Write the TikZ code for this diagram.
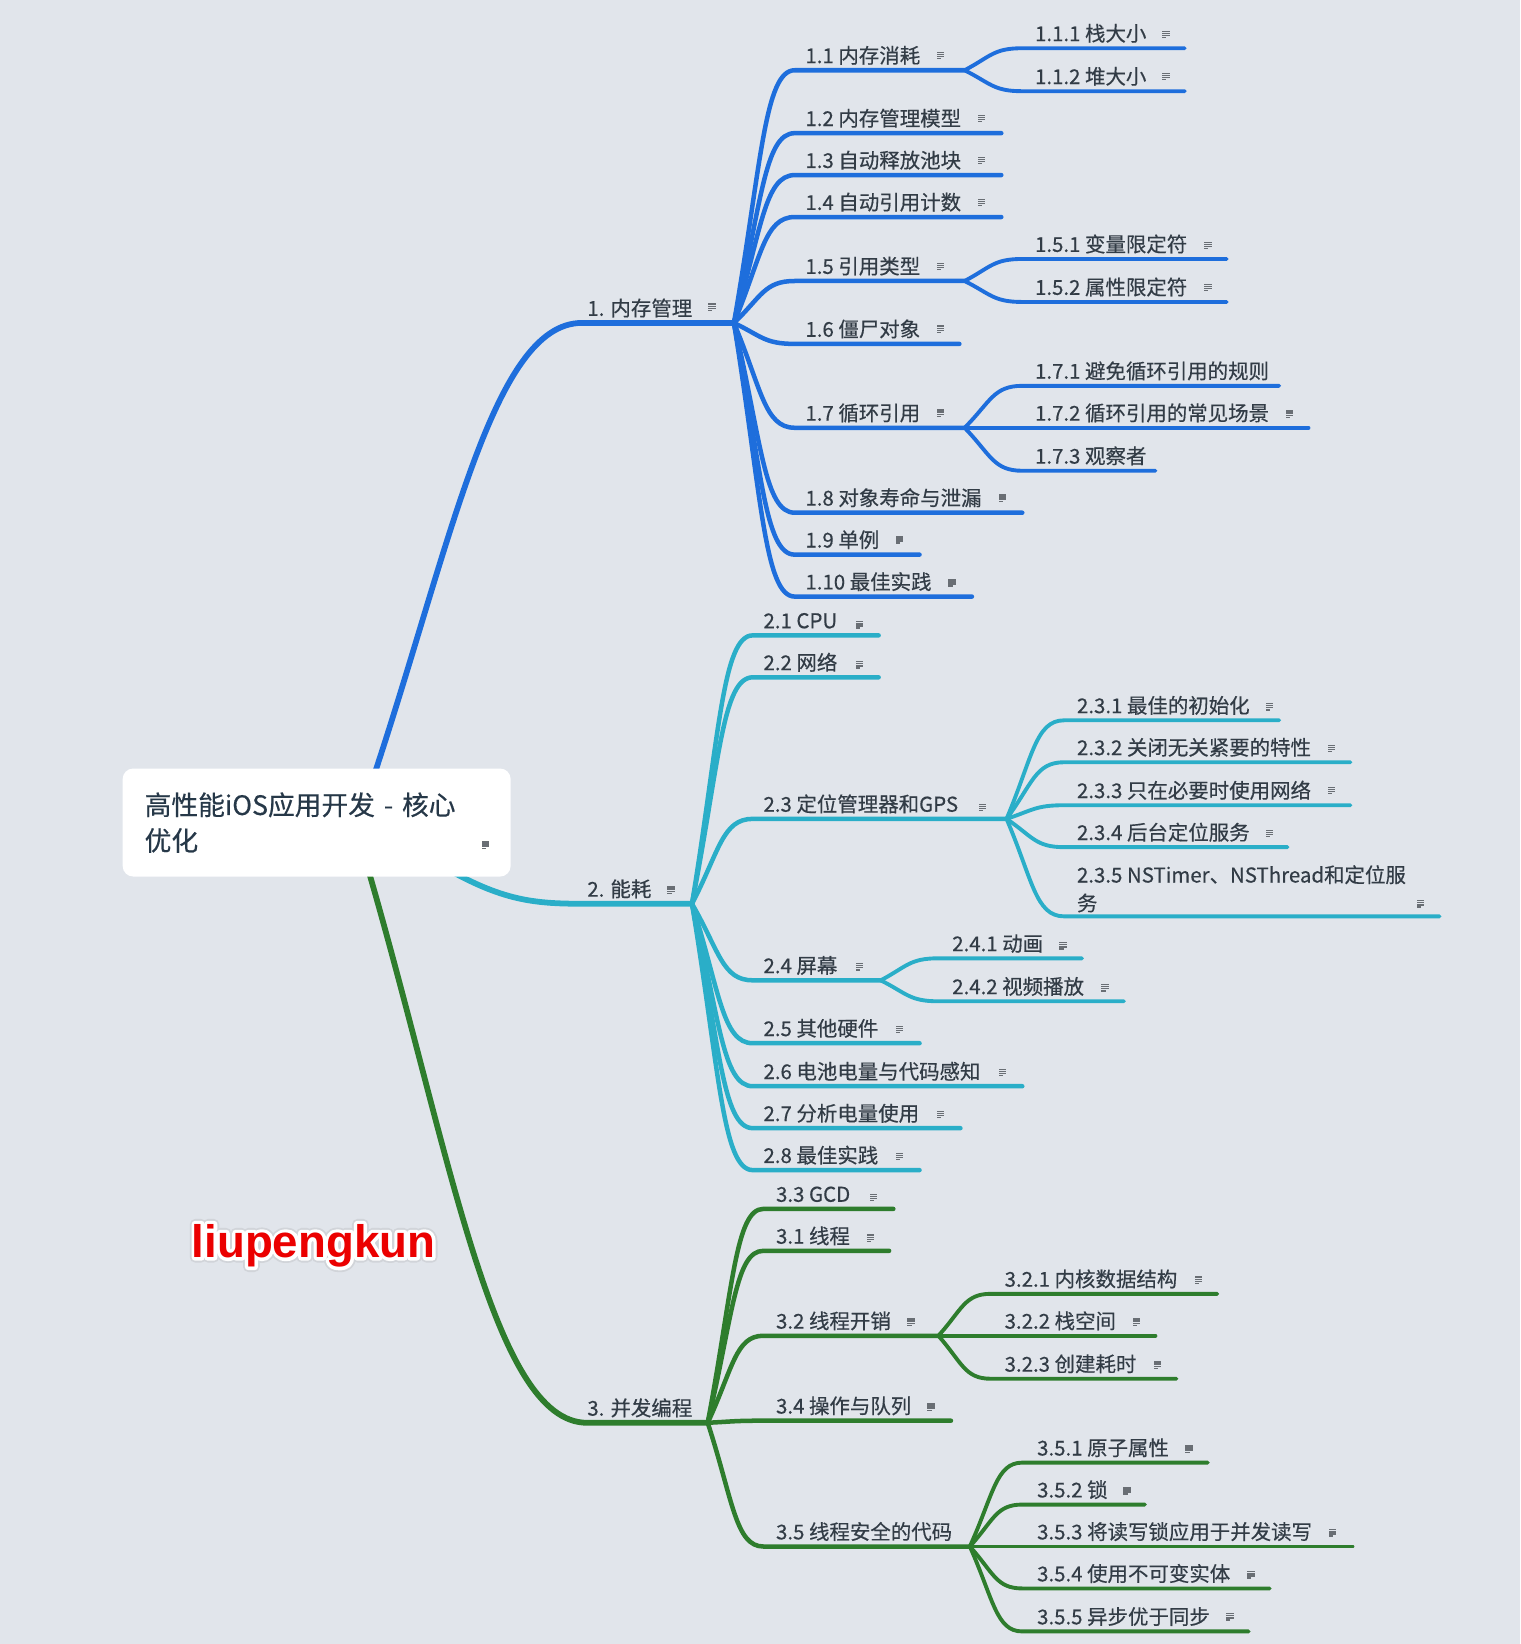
\documentclass[tikz,border=0pt]{standalone}
\usepackage{fontspec}
\newfontfamily\cjk{Noto Sans CJK SC}[FakeBold=0.4]
\newfontfamily\wmfont{Liberation Sans}
\usetikzlibrary{calc}
\definecolor{bgc}{RGB}{225,229,235}
\definecolor{txt}{RGB}{50,60,70}
\definecolor{roottxt}{RGB}{38,56,72}
\definecolor{iconc}{RGB}{105,110,116}
\definecolor{cblue}{RGB}{30,110,220}
\definecolor{cteal}{RGB}{42,174,200}
\definecolor{cgreen}{RGB}{46,125,45}
\definecolor{wmred}{RGB}{235,0,0}
\pgfdeclarelayer{back}
\pgfdeclarelayer{edges}
\pgfsetlayers{back,edges,main}
\tikzset{
  lbl/.style={font=\cjk\fontsize{19.5}{24}\selectfont, text=txt, inner sep=0pt, anchor=base west},
  rootbox/.style={fill=white, rounded corners=10pt, inner xsep=21pt, inner ysep=0pt,
    minimum width=370pt, minimum height=103pt, text width=328pt, align=left,
    font=\cjk\fontsize{25.5}{34}\selectfont, text=roottxt},
  mainln/.style={line width=5.5pt, line cap=round},
  childln/.style={line width=4.3pt, line cap=round},
  subln/.style={line width=3.7pt, line cap=round},
  notemark/.pic={
    \fill[iconc] (-3.5,-3.6) rectangle (3.5,-2.3);
    \fill[iconc] (-3.5,-1.6) rectangle (3.5,-0.3);
    \fill[iconc] (-3.5,0.4) rectangle (3.5,1.7);
    \fill[iconc] (-3.5,2.4) rectangle (0.5,3.7);
  },
  wm/.style={font=\wmfont\bfseries\fontsize{43.5}{48}\selectfont, inner sep=0pt}
}
\newcommand\topic[6]{%
  \coordinate (#1-s) at (#2,#4);
  \coordinate (#1-e) at (#3,#4);
  \node[lbl] (#1) at (#5,#4-6.8) {#6};}
\newcommand\mmlink[4]{%
  \draw[#1] let \p1=(#2), \p2=(#3) in (\p1) .. controls ({\x1+0.45*(\x2-\x1)},{\y1+0.62*(\y2-\y1)}) and ({\x1+0.5*(\x2-\x1)},\y2) .. (\p2) -- (#4);}
\begin{document}
\begin{tikzpicture}[x=1pt,y=-1pt]
\useasboundingbox (0,0) rectangle (1450,1568);
\begin{pgfonlayer}{back}
\fill[bgc] (0,0) rectangle (1450,1568);
\end{pgfonlayer}

% root
\node[rootbox] (root) at (302,784.5) {高性能iOS应用开发 - 核心\\优化};
\pic at (463,806) {notemark};

% level 1
\topic{t1}{555}{700}{308}{560}{1. 内存管理}
\topic{t2}{560}{660}{862}{560}{2. 能耗}
\topic{t3}{560}{675}{1357}{560}{3. 并发编程}
\pic at (679,293) {notemark};
\pic at (640,849) {notemark};

% blue children
\topic{t11}{758}{920}{67}{768}{1.1 内存消耗}
\topic{t12}{758}{955}{127}{768}{1.2 内存管理模型}
\topic{t13}{758}{955}{167}{768}{1.3 自动释放池块}
\topic{t14}{758}{955}{207}{768}{1.4 自动引用计数}
\topic{t15}{758}{920}{268}{768}{1.5 引用类型}
\topic{t16}{758}{915}{328}{768}{1.6 僵尸对象}
\topic{t17}{758}{920}{408}{768}{1.7 循环引用}
\topic{t18}{758}{975}{489}{768}{1.8 对象寿命与泄漏}
\topic{t19}{758}{877}{529}{768}{1.9 单例}
\topic{t110}{758}{927}{569}{768}{1.10 最佳实践}
\pic at (897,53) {notemark};
\pic at (936,113) {notemark};
\pic at (936,153) {notemark};
\pic at (936,193) {notemark};
\pic at (897,254) {notemark};
\pic at (897,314) {notemark};
\pic at (897,394) {notemark};
\pic at (956,475) {notemark};
\pic at (858,515) {notemark};
\pic at (908,556) {notemark};

\topic{t111}{975}{1130}{46}{987}{1.1.1 栈大小}
\topic{t112}{975}{1130}{87}{987}{1.1.2 堆大小}
\topic{t151}{975}{1170}{247}{987}{1.5.1 变量限定符}
\topic{t152}{975}{1170}{288}{987}{1.5.2 属性限定符}
\topic{t171}{975}{1220}{368}{987}{1.7.1 避免循环引用的规则}
\topic{t172}{975}{1248}{408}{987}{1.7.2 循环引用的常见场景}
\topic{t173}{975}{1102}{449}{987}{1.7.3 观察者}
\pic at (1112,33) {notemark};
\pic at (1112,73) {notemark};
\pic at (1152,234) {notemark};
\pic at (1152,274) {notemark};
\pic at (1230,395) {notemark};

% teal children
\topic{t21}{718}{838}{606}{728}{2.1 CPU}
\topic{t22}{718}{838}{646}{728}{2.2 网络}
\topic{t23}{718}{960}{781}{728}{2.3 定位管理器和GPS}
\topic{t24}{718}{840}{935}{728}{2.4 屏幕}
\topic{t25}{718}{877}{995}{728}{2.5 其他硬件}
\topic{t26}{718}{975}{1036}{728}{2.6 电池电量与代码感知}
\topic{t27}{718}{916}{1076}{728}{2.7 分析电量使用}
\topic{t28}{718}{877}{1116}{728}{2.8 最佳实践}
\pic at (820,596) {notemark};
\pic at (820,634) {notemark};
\pic at (937,770) {notemark};
\pic at (820,922) {notemark};
\pic at (858,982) {notemark};
\pic at (956,1023) {notemark};
\pic at (897,1063) {notemark};
\pic at (858,1103) {notemark};

\topic{t231}{1015}{1220}{687}{1027}{2.3.1 最佳的初始化}
\topic{t232}{1015}{1288}{727}{1027}{2.3.2 关闭无关紧要的特性}
\topic{t233}{1015}{1288}{768}{1027}{2.3.3 只在必要时使用网络}
\topic{t234}{1015}{1228}{808}{1027}{2.3.4 后台定位服务}
\coordinate (t235-s) at (1015,874);
\coordinate (t235-e) at (1373,874);
\node[lbl, anchor=north west, align=left, font=\cjk\fontsize{19.5}{27}\selectfont] (t235) at (1027,825) {2.3.5 NSTimer、NSThread和定位服\\务};
\pic at (1211,674) {notemark};
\pic at (1270,714) {notemark};
\pic at (1270,754) {notemark};
\pic at (1211,795) {notemark};
\pic at (1355,862) {notemark};

\topic{t241}{895}{1032}{914}{908}{2.4.1 动画}
\topic{t242}{895}{1072}{955}{908}{2.4.2 视频播放}
\pic at (1014,902) {notemark};
\pic at (1054,942) {notemark};

% green children
\topic{t33}{728}{852}{1153}{740}{3.3 GCD}
\topic{t31}{728}{848}{1193}{740}{3.1 线程}
\topic{t32}{728}{895}{1274}{740}{3.2 线程开销}
\topic{t34}{728}{907}{1355}{740}{3.4 操作与队列}
\topic{t35}{728}{925}{1475}{740}{3.5 线程安全的代码}
\pic at (833,1142) {notemark};
\pic at (830,1181) {notemark};
\pic at (869,1261) {notemark};
\pic at (888,1342) {notemark};

\topic{t321}{945}{1161}{1234}{958}{3.2.1 内核数据结构}
\topic{t322}{945}{1102}{1274}{958}{3.2.2 栈空间}
\topic{t323}{945}{1122}{1315}{958}{3.2.3 创建耗时}
\pic at (1143,1221) {notemark};
\pic at (1084,1261) {notemark};
\pic at (1104,1302) {notemark};

\topic{t351}{975}{1152}{1395}{989}{3.5.1 原子属性}
\topic{t352}{975}{1092}{1435}{989}{3.5.2 锁}
\topic{t353}{975}{1290}{1475}{989}{3.5.3 将读写锁应用于并发读写}
\topic{t354}{975}{1211}{1515}{989}{3.5.4 使用不可变实体}
\topic{t355}{975}{1191}{1556}{989}{3.5.5 异步优于同步}
\pic at (1134,1382) {notemark};
\pic at (1075,1422) {notemark};
\pic at (1271,1462) {notemark};
\pic at (1193,1502) {notemark};
\pic at (1173,1542) {notemark};

% connectors
\begin{pgfonlayer}{edges}
\draw[mainln, cblue] ($(root.north)+(53,12)$) .. controls (430,520) and (470,308) .. (t1-s) -- (t1-e);
\draw[mainln, cteal] ($(root.south east)+(-67,-11)$) .. controls (480,860) and (510,862) .. (t2-s) -- (t2-e);
\draw[mainln, cgreen] ($(root.south)+(48,-11)$) .. controls (430,1100) and (470,1357) .. (t3-s) -- (t3-e);

\foreach \c in {t11,t12,t13,t14,t15,t16,t17,t18,t19,t110}
  {\mmlink{childln,cblue}{t1-e}{\c-s}{\c-e}}
\foreach \c in {t111,t112}{\mmlink{subln,cblue}{t11-e}{\c-s}{\c-e}}
\foreach \c in {t151,t152}{\mmlink{subln,cblue}{t15-e}{\c-s}{\c-e}}
\foreach \c in {t171,t172,t173}{\mmlink{subln,cblue}{t17-e}{\c-s}{\c-e}}

\foreach \c in {t21,t22,t23,t24,t25,t26,t27,t28}
  {\mmlink{childln,cteal}{t2-e}{\c-s}{\c-e}}
\foreach \c in {t231,t232,t233,t234,t235}{\mmlink{subln,cteal}{t23-e}{\c-s}{\c-e}}
\foreach \c in {t241,t242}{\mmlink{subln,cteal}{t24-e}{\c-s}{\c-e}}

\foreach \c in {t33,t31,t32,t34,t35}
  {\mmlink{childln,cgreen}{t3-e}{\c-s}{\c-e}}
\foreach \c in {t321,t322,t323}{\mmlink{subln,cgreen}{t32-e}{\c-s}{\c-e}}
\foreach \c in {t351,t352,t353,t354,t355}{\mmlink{subln,cgreen}{t35-e}{\c-s}{\c-e}}
\end{pgfonlayer}

% watermark: red text with a white stroked outline and a soft grey halo
\node[wm, text=wmred] (wm) at (299,1188) {%
  \rlap{\special{pdf:code q 2 Tr 10 w 1 j 0.82 0.83 0.85 RG 0.82 0.83 0.85 rg}liupengkun\special{pdf:code Q}}%
  \rlap{\special{pdf:code q 2 Tr 6.5 w 1 j 1 1 1 RG 1 1 1 rg}liupengkun\special{pdf:code Q}}%
  liupengkun};
\end{tikzpicture}
\end{document}
